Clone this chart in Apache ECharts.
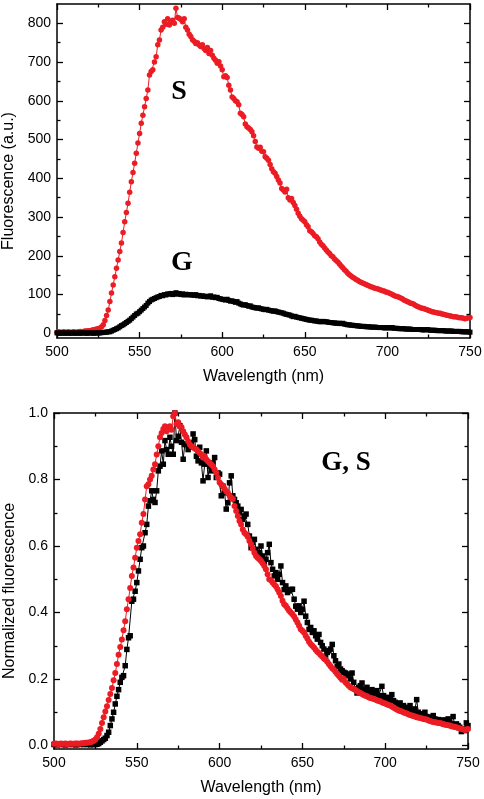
<!DOCTYPE html>
<html>
<head>
<meta charset="utf-8">
<script src="https://cdn.jsdelivr.net/npm/echarts@6/dist/echarts.min.js"></script>
<style>
html,body{margin:0;padding:0;background:#fff;}
#chart{width:484px;height:799px;}
</style>
</head>
<body>
<div id="chart"></div>
<script>
// Wavelength sampling (nm): first value and step
const wlStart = 500;
const wlStep = 1;

// Top panel: raw fluorescence (a.u.), 500..750 nm
const fluorS = [
  3,4,3,2,4,3,3,4,2,3,
  4,3,3,4,5,4,5,6,6,7,
  7,8,9,10,11,12,14,17,22,33,
  46,60,82,104,125,146,168,189,211,233,
  260,288,312,336,364,391,415,439,465,491,
  516,542,563,585,606,628,667,676,680,700,
  714,745,757,783,790,804,798,812,796,805,
  808,800,839,815,813,810,804,812,790,783,
  772,766,758,754,748,750,744,740,745,735,
  730,738,722,730,718,710,705,697,701,690,
  680,662,665,660,640,628,610,606,600,598,
  590,568,565,559,540,533,530,526,520,510,
  495,481,478,480,470,469,456,452,447,436,
  425,417,413,405,396,388,374,370,365,372,
  350,344,348,338,330,320,310,302,296,292,
  288,280,275,265,262,258,252,249,244,236,
  230,226,220,215,210,206,200,198,192,188,
  184,179,174,169,164,160,155,151,148,145,
  142,139,137,134,132,130,128,126,124,122,
  120,119,117,116,115,113,112,110,109,107,
  106,104,102,100,98,96,95,93,91,89,
  86,84,82,80,78,77,75,72,70,68,
  66,65,64,62,61,59,58,56,55,54,
  53,52,52,50,49,48,47,46,45,44,
  43,43,42,41,40,40,39,38,39,40,
  41
];
const fluorG = [
  1,1,0,1,1,0,1,1,0,1,
  1,0,1,1,0,1,1,1,0,1,
  1,1,0,1,1,1,1,2,2,3,
  3,4,4,6,8,10,12,14,17,20,
  22,25,28,31,34,38,42,46,50,52,
  56,60,64,68,72,78,82,86,88,90,
  92,94,95,98,97,100,99,102,101,103,
  100,102,105,101,103,100,102,99,101,100,
  99,100,99,98,100,97,98,96,97,95,
  96,94,95,97,93,94,92,93,90,89,
  88,87,86,88,85,83,84,82,80,82,
  78,76,74,73,74,72,70,71,68,67,
  66,65,66,64,63,62,61,62,60,59,
  58,57,58,56,55,54,53,52,50,49,
  48,47,45,43,44,42,41,40,39,38,
  37,36,35,34,34,33,32,32,31,30,
  30,31,30,30,29,28,28,27,27,26,
  26,26,25,26,24,23,22,22,21,21,
  20,20,19,19,18,18,18,17,17,17,
  16,16,16,16,15,15,15,15,14,14,
  15,14,14,15,13,13,13,12,12,12,
  12,11,11,11,11,10,10,10,10,10,
  10,9,9,9,10,9,8,8,8,8,
  7,7,7,7,7,6,6,6,6,6,
  5,5,5,5,5,4,4,4,4,4,
  3
];

// Bottom panel: normalized fluorescence, 500..750 nm
const normS = [
  .005,.006,.005,.004,.006,.005,.005,.006,.004,.005,
  .006,.005,.005,.006,.006,.005,.006,.007,.007,.008,
  .008,.009,.01,.012,.014,.018,.025,.035,.05,.068,
  .085,.102,.118,.137,.155,.173,.196,.218,.245,.273,
  .296,.319,.347,.374,.41,.44,.474,.51,.535,.565,
  .595,.615,.635,.67,.696,.74,.78,.786,.8,.811,
  .83,.846,.875,.9,.927,.94,.952,.96,.945,.957,
  .96,.95,.99,1.0,.967,.972,.96,.957,.945,.935,
  .927,.915,.905,.9,.897,.893,.89,.885,.88,.875,
  .866,.87,.86,.855,.85,.845,.84,.83,.82,.805,
  .791,.785,.78,.772,.765,.76,.752,.745,.741,.72,
  .705,.69,.675,.665,.65,.64,.635,.628,.615,.605,
  .592,.58,.57,.565,.56,.555,.548,.54,.53,.515,
  .5,.497,.49,.484,.479,.47,.46,.45,.435,.425,
  .42,.413,.405,.4,.395,.388,.379,.37,.36,.35,
  .345,.34,.33,.322,.312,.305,.3,.295,.288,.282,
  .278,.272,.268,.262,.258,.252,.245,.238,.232,.228,
  .222,.215,.21,.204,.198,.2,.19,.185,.18,.175,
  .172,.17,.167,.163,.16,.158,.155,.152,.15,.148,
  .145,.143,.142,.14,.138,.136,.134,.133,.13,.128,
  .126,.124,.122,.12,.117,.114,.111,.108,.106,.104,
  .102,.1,.098,.096,.094,.092,.09,.089,.087,.085,
  .084,.083,.082,.08,.079,.078,.076,.074,.072,.071,
  .07,.069,.068,.068,.066,.064,.063,.062,.061,.06,
  .058,.057,.056,.055,.053,.052,.05,.049,.047,.048,
  .05
];
const normG = [
  .003,.004,.002,.005,.003,.004,.003,.002,.004,.003,
  .005,.003,.004,.002,.003,.004,.003,.005,.003,.004,
  .003,.004,.002,.004,.003,.003,.004,.006,.01,.014,
  .018,.022,.03,.04,.06,.08,.1,.125,.148,.168,
  .19,.205,.21,.24,.289,.324,.33,.434,.44,.464,
  .49,.525,.56,.595,.6,.64,.665,.72,.736,.766,
  .74,.731,.766,.826,.84,.886,.846,.917,.89,.876,
  .927,.9,.876,1.0,.917,.93,.962,.912,.861,.905,
  .907,.89,.897,.91,.937,.92,.87,.856,.897,.85,
  .796,.846,.886,.806,.84,.826,.85,.866,.806,.82,
  .816,.751,.78,.76,.711,.73,.79,.811,.751,.74,
  .73,.72,.7,.71,.68,.69,.696,.665,.63,.595,
  .61,.62,.59,.575,.58,.6,.57,.55,.56,.58,
  .605,.55,.53,.51,.52,.5,.515,.54,.49,.469,
  .48,.46,.465,.469,.47,.44,.419,.41,.42,.4,
  .41,.434,.389,.37,.349,.355,.34,.345,.33,.32,
  .334,.31,.3,.29,.268,.28,.285,.29,.304,.27,
  .255,.238,.245,.23,.225,.22,.218,.21,.215,.2,
  .218,.19,.17,.158,.175,.18,.188,.17,.165,.175,
  .16,.15,.168,.16,.155,.165,.15,.145,.178,.15,
  .14,.145,.13,.14,.153,.135,.13,.12,.125,.128,
  .115,.12,.11,.1,.115,.12,.105,.1,.11,.138,
  .1,.095,.09,.095,.1,.087,.085,.08,.085,.09,
  .08,.075,.078,.07,.072,.077,.07,.075,.08,.07,
  .065,.087,.06,.065,.06,.055,.042,.05,.045,.068,
  .06
];

// Tick values
const xTicks = [500, 550, 600, 650, 700, 750];
const topYTicks = [0, 100, 200, 300, 400, 500, 600, 700, 800];
const topYMinor = [50, 150, 250, 350, 450, 550, 650, 750];
const botYTicks = [0, 0.2, 0.4, 0.6, 0.8, 1.0];
const botYMinor = [0.1, 0.3, 0.5, 0.7, 0.9];

function pairs(arr) {
  return arr.map((v, i) => [wlStart + i * wlStep, v]);
}

const RED = '#ec1c24';
const FONT = 'Liberation Sans';
const lineStyle = { color: '#000', width: 1.5 };

function xAx(gridIndex, pos, withLabels, name) {
  return {
    type: 'value', gridIndex, position: pos,
    min: xTicks[0], max: xTicks[xTicks.length - 1], interval: 50,
    axisLine: { show: true, onZero: false, lineStyle },
    axisTick: { show: true, inside: true, length: 6, lineStyle: { color: '#000', width: 1.3 } },
    minorTick: { show: true, splitNumber: 2, length: 3.5, lineStyle: { color: '#000', width: 1.3 } },
    axisLabel: { show: withLabels, color: '#000', fontSize: 14, fontFamily: FONT, margin: 7 },
    splitLine: { show: false },
    name: name || '', nameLocation: 'middle', nameGap: 31,
    nameTextStyle: { color: '#000', fontSize: 16, fontFamily: FONT }
  };
}

function yAx(gridIndex, pos, min, max, ticks, labels, tickLen, fmt, name, showLine, gap) {
  return {
    type: 'value', gridIndex, position: pos, min, max,
    axisLine: { show: showLine, onZero: false, lineStyle },
    axisTick: { show: true, inside: true, length: tickLen, customValues: ticks, lineStyle: { color: '#000', width: 1.3 } },
    axisLabel: { show: labels, customValues: ticks, color: '#000', fontSize: 14, fontFamily: FONT, margin: 6, formatter: fmt },
    splitLine: { show: false },
    name: name || '', nameLocation: 'middle', nameGap: gap || 34,
    nameTextStyle: { color: '#000', fontSize: 16, fontFamily: FONT, padding: [0, 20, 0, 0] }
  };
}

const topMin = -12, topMax = 850, botMin = -0.0105, botMax = 1.0;
const fmtTop = v => String(Math.round(v));
const fmtBot = v => v.toFixed(1);

const chart = echarts.init(document.getElementById('chart'), null, { renderer: 'canvas' });
chart.setOption({
  animation: false,
  backgroundColor: '#fff',
  grid: [
    { left: 57, top: 4, width: 413, height: 334, containLabel: false, outerBoundsMode: 'none' },
    { left: 54, top: 413, width: 414, height: 336, containLabel: false, outerBoundsMode: 'none' }
  ],
  xAxis: [
    xAx(0, 'bottom', true, 'Wavelength (nm)'),
    xAx(0, 'top', false),
    xAx(1, 'bottom', true, 'Wavelength (nm)'),
    xAx(1, 'top', false)
  ],
  yAxis: [
    yAx(0, 'left', topMin, topMax, topYTicks, true, 6, fmtTop, 'Fluorescence (a.u.)', true, 34),
    yAx(0, 'right', topMin, topMax, topYTicks, false, 6, fmtTop, '', true),
    yAx(0, 'left', topMin, topMax, topYMinor, false, 3.5, fmtTop, '', false),
    yAx(0, 'right', topMin, topMax, topYMinor, false, 3.5, fmtTop, '', false),
    yAx(1, 'left', botMin, botMax, botYTicks, true, 6, fmtBot, 'Normalized fluorescence', true, 33),
    yAx(1, 'right', botMin, botMax, botYTicks, false, 6, fmtBot, '', true),
    yAx(1, 'left', botMin, botMax, botYMinor, false, 3.5, fmtBot, '', false),
    yAx(1, 'right', botMin, botMax, botYMinor, false, 3.5, fmtBot, '', false)
  ],
  series: [
    {
      name: 'S', type: 'line', xAxisIndex: 0, yAxisIndex: 0, data: pairs(fluorS),
      symbol: 'circle', symbolSize: 5.5, showAllSymbol: true,
      itemStyle: { color: RED }, lineStyle: { color: RED, width: 1 }
    },
    {
      name: 'G', type: 'line', xAxisIndex: 0, yAxisIndex: 0, data: pairs(fluorG),
      symbol: 'rect', symbolSize: 5, showAllSymbol: true,
      itemStyle: { color: '#000' }, lineStyle: { color: '#000', width: 1 }
    },
    {
      name: 'G norm', type: 'line', xAxisIndex: 2, yAxisIndex: 4, data: pairs(normG),
      symbol: 'rect', symbolSize: 5.5, showAllSymbol: true,
      itemStyle: { color: '#000' }, lineStyle: { color: '#000', width: 1 }
    },
    {
      name: 'S norm', type: 'line', xAxisIndex: 2, yAxisIndex: 4, data: pairs(normS),
      symbol: 'circle', symbolSize: 6, showAllSymbol: true,
      itemStyle: { color: RED }, lineStyle: { color: RED, width: 1 }
    }
  ],
  graphic: [
    { type: 'text', x: 179, y: 92, style: { text: 'S', font: 'bold 28px "Liberation Serif"', fill: '#000', align: 'center', verticalAlign: 'middle', textAlign: 'center', textVerticalAlign: 'middle' } },
    { type: 'text', x: 182, y: 263, style: { text: 'G', font: 'bold 28px "Liberation Serif"', fill: '#000', align: 'center', verticalAlign: 'middle', textAlign: 'center', textVerticalAlign: 'middle' } },
    { type: 'text', x: 346, y: 463, style: { text: 'G, S', font: 'bold 27px "Liberation Serif"', fill: '#000', align: 'center', verticalAlign: 'middle', textAlign: 'center', textVerticalAlign: 'middle' } }
  ]
});
</script>
</body>
</html>
